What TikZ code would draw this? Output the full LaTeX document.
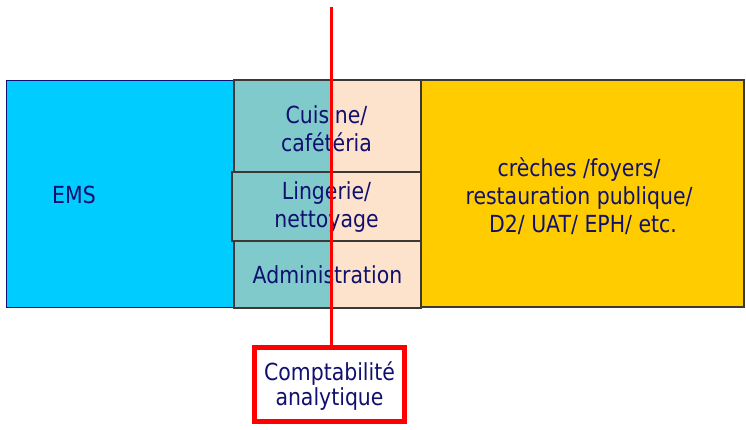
\documentclass[tikz,border=0pt]{standalone}
\usepackage{fontspec}
\setmainfont[FakeStretch=0.87]{DejaVu Sans}
\definecolor{navytext}{RGB}{16,16,110}
\definecolor{emsblue}{RGB}{0,204,255}
\definecolor{gold}{RGB}{255,204,0}
\definecolor{peach}{RGB}{253,226,204}
\definecolor{tealmix}{RGB}{128,202,204}
\definecolor{edge}{RGB}{60,56,52}
\definecolor{alarm}{RGB}{255,0,0}
\tikzset{
  panel/.style={rectangle, inner sep=0pt, outer sep=0pt, anchor=center},
  label text/.style={text=navytext, font=\fontsize{23.5}{28}\selectfont, align=center, inner sep=0pt},
  sharedbox/.style={panel, draw=edge, line width=2pt, fill=peach,
    path picture={\fill[tealmix] (path picture bounding box.south west) rectangle (path picture bounding box.north -| split);}},
}
\begin{document}
\begin{tikzpicture}[x=1pt, y=-1pt]
  \useasboundingbox (0,0) rectangle (746,429);
  \coordinate (split) at (331,0);

  % outer blocks
  \node[panel, draw=navytext, line width=1pt, fill=emsblue,
        minimum width=228pt, minimum height=227pt] (ems) at (120.25,194) {};
  \node[panel, draw=edge, line width=2pt, fill=gold,
        minimum width=323pt, minimum height=227pt] (other) at (582.5,193.5) {};

  % shared services column
  \node[sharedbox, minimum width=187pt, minimum height=92pt] (cuisine) at (327.5,126) {};
  \node[sharedbox, minimum width=187pt, minimum height=67pt] (admin) at (327.5,274.5) {};
  \node[sharedbox, minimum width=189pt, minimum height=69pt] (linge) at (326.5,206.5) {};

  % labels
  \node[label text, anchor=base] (emst) at (74,203) {EMS};
  \node[label text] (cuisinet) at (326.5,128.5) {Cuisine/\\caf\'et\'eria};
  \node[label text] (linget) at (326.5,207) {Lingerie/\\nettoyage};
  \node[label text, anchor=base] (admint) at (327.5,283) {Administration};
  \node[label text] (othert) at (579,196) {cr\`eches /foyers/\\restauration publique/\\\hspace*{8pt}D2/ UAT/ EPH/ etc.};

  % cost accounting box and its axis
  \node[panel, draw=alarm, line width=5pt, fill=white,
        minimum width=150pt, minimum height=74pt] (compta) at (329.5,384.5) {};
  \node[label text, font=\fontsize{23.5}{25}\selectfont] (comptat) at (329.5,386) {Comptabilit\'e\\analytique};
  \coordinate (axistop) at (331.5,7);
  \draw[alarm, line width=3pt] (axistop) -- (axistop |- compta.north);
\end{tikzpicture}
\end{document}
